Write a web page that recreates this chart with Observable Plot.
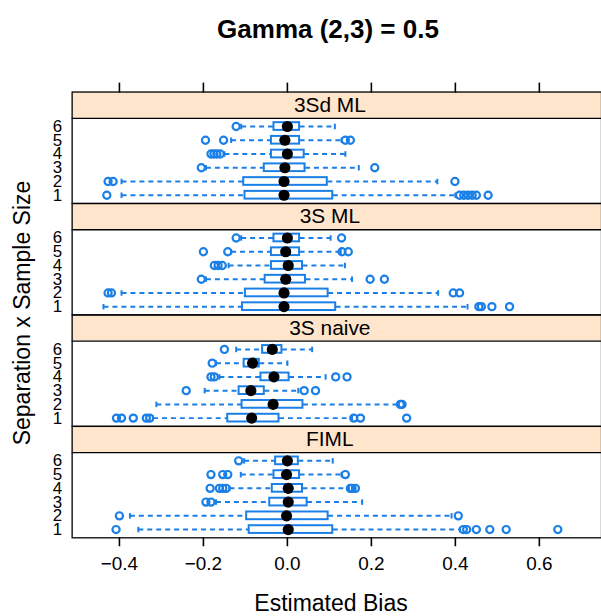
<!DOCTYPE html>
<html>
<head>
<meta charset="utf-8">
<script src="https://cdn.jsdelivr.net/npm/d3@7"></script>
<script src="https://cdn.jsdelivr.net/npm/@observablehq/plot@0.6"></script>
<style>
  html, body { margin: 0; padding: 0; background: #fff; overflow: hidden; }
  #wrap { position: relative; width: 601px; height: 616px; font-family: "Liberation Sans", Arial, sans-serif; }
  .lbl { position: absolute; white-space: nowrap; color: #000; }
  #title { left: 328px; top: 29px; transform: translate(-50%, -50%); font-weight: bold; font-size: 26px; }
  #xlab { left: 331px; top: 603px; transform: translate(-50%, -50%); font-size: 23px; }
  #ylab { left: 22px; top: 313px; transform: translate(-50%, -50%) rotate(-90deg); font-size: 23px; }
</style>
</head>
<body>
<div id="wrap">
  <div id="chart"></div>
  <div class="lbl" id="title">Gamma (2,3) = 0.5</div>
  <div class="lbl" id="xlab">Estimated Bias</div>
  <div class="lbl" id="ylab">Separation x Sample Size</div>
</div>
<script>
// Panels, top to bottom
const panels = ["3Sd ML", "3S ML", "3S naive", "FIML"];
const sizes = [1, 2, 3, 4, 5, 6];
const xTicks = [-0.4, -0.2, 0.0, 0.2, 0.4, 0.6];

// One entry per panel x size (sizes 1..6 within each panel)
const panelOf = [
  "FIML","FIML","FIML","FIML","FIML","FIML",
  "3S naive","3S naive","3S naive","3S naive","3S naive","3S naive",
  "3S ML","3S ML","3S ML","3S ML","3S ML","3S ML",
  "3Sd ML","3Sd ML","3Sd ML","3Sd ML","3Sd ML","3Sd ML"
];
const sizeOf = [1,2,3,4,5,6, 1,2,3,4,5,6, 1,2,3,4,5,6, 1,2,3,4,5,6];
const whiskerLow = [
  -0.355, -0.375, -0.170, -0.138, -0.111, -0.103,
  -0.320, -0.312, -0.197, -0.162, -0.170, -0.122,
  -0.438, -0.395, -0.194, -0.140, -0.134, -0.110,
  -0.395, -0.395, -0.194, -0.150, -0.134, -0.110
];
const q1 = [
  -0.091, -0.097, -0.042, -0.036, -0.032, -0.028,
  -0.142, -0.108, -0.115, -0.063, -0.103, -0.059,
  -0.107, -0.100, -0.053, -0.038, -0.038, -0.032,
  -0.101, -0.104, -0.055, -0.038, -0.038, -0.032
];
const median = [
  0.002, -0.002, 0.002, 0.002, -0.002, 0.000,
  -0.085, -0.034, -0.087, -0.032, -0.083, -0.036,
  -0.008, -0.008, -0.004, 0.002, -0.004, 0.000,
  -0.008, -0.008, -0.006, 0.000, -0.006, 0.000
];
const q3 = [
  0.108, 0.097, 0.047, 0.036, 0.029, 0.026,
  -0.020, 0.037, -0.055, 0.004, -0.067, -0.013,
  0.115, 0.097, 0.043, 0.036, 0.029, 0.029,
  0.108, 0.095, 0.042, 0.040, 0.029, 0.029
];
const whiskerHigh = [
  0.411, 0.391, 0.178, 0.145, 0.129, 0.108,
  0.154, 0.265, 0.026, 0.091, 0.000, 0.059,
  0.429, 0.359, 0.154, 0.137, 0.127, 0.103,
  0.400, 0.357, 0.170, 0.138, 0.129, 0.113
];
const outliers = [
  [-0.408, 0.419, 0.427, 0.45, 0.482, 0.521, 0.644],
  [-0.400, 0.407],
  [-0.194, -0.182],
  [-0.184, -0.162, -0.154, -0.146, 0.150, 0.154, 0.162],
  [-0.182, -0.154, -0.142, 0.138],
  [-0.116],
  [-0.407, -0.395, -0.367, -0.336, -0.328, 0.158, 0.174, 0.284],
  [0.269, 0.273],
  [-0.241, 0.040, 0.067],
  [-0.182, -0.174, 0.115, 0.142],
  [-0.179],
  [-0.150],
  [0.456, 0.462, 0.487, 0.529],
  [-0.427, -0.419, 0.395, 0.410],
  [-0.205, 0.197, 0.231],
  [-0.174, -0.165, -0.155],
  [-0.200, -0.142, 0.130, 0.145],
  [-0.122, 0.129],
  [-0.430, 0.410, 0.420, 0.430, 0.440, 0.450, 0.478],
  [-0.427, -0.415, 0.399],
  [-0.205, 0.208],
  [-0.182, -0.175, -0.168, -0.160],
  [-0.195, -0.152, 0.138, 0.150],
  [-0.122]
];

const stats = panelOf.map((p, i) => ({
  panel: p, size: sizeOf[i], lo: whiskerLow[i], q1: q1[i], med: median[i], q3: q3[i], hi: whiskerHigh[i]
}));
const outPts = outliers.flatMap((arr, i) => arr.map(v => ({panel: panelOf[i], size: sizeOf[i], v})));

const blue = "#1a7fe6";
const boxHalf = 0.28, capHalf = 0.2;
const stripLo = 6.6, stripHi = 8.51;

const chart = Plot.plot({
  width: 604,
  height: 616,
  marginLeft: 72,
  marginRight: 0,
  marginTop: 90,
  marginBottom: 75,
  style: {fontFamily: "'Liberation Sans', Arial, sans-serif", background: "white", overflow: "visible"},
  x: {domain: [-0.5126, 0.748]},
  y: {domain: [0.4, stripHi]},
  fy: {domain: panels, padding: 0, axis: null, label: null},
  marks: [
    Plot.rect(panels, {fy: d => d, y1: () => stripLo, y2: () => stripHi, fill: "#ffe5cc"}),
    Plot.ruleY(panels, {fy: d => d, y: () => stripLo, stroke: "black", strokeWidth: 1.3}),
    Plot.text(panels, {fy: d => d, y: () => (stripLo + stripHi) / 2, frameAnchor: "middle", dx: -7, text: d => d, fontSize: 21, fill: "black"}),
    // whiskers
    Plot.link(stats, {fy: "panel", x1: "lo", x2: "q1", y1: "size", y2: "size", stroke: blue, strokeWidth: 2, strokeDasharray: "5,4"}),
    Plot.link(stats, {fy: "panel", x1: "q3", x2: "hi", y1: "size", y2: "size", stroke: blue, strokeWidth: 2, strokeDasharray: "5,4"}),
    Plot.link(stats, {fy: "panel", x1: "lo", x2: "lo", y1: d => d.size - capHalf, y2: d => d.size + capHalf, stroke: blue, strokeWidth: 2}),
    Plot.link(stats, {fy: "panel", x1: "hi", x2: "hi", y1: d => d.size - capHalf, y2: d => d.size + capHalf, stroke: blue, strokeWidth: 2}),
    // boxes
    Plot.rect(stats, {fy: "panel", x1: "q1", x2: "q3", y1: d => d.size - boxHalf, y2: d => d.size + boxHalf, fill: "none", stroke: blue, strokeWidth: 2}),
    // outliers
    Plot.dot(outPts, {fy: "panel", x: "v", y: "size", r: 3.6, stroke: blue, strokeWidth: 2.2, fill: "none"}),
    // medians
    Plot.dot(stats, {fy: "panel", x: "med", y: "size", r: 5.6, fill: "black", stroke: "none"}),
    Plot.frame({stroke: "black", strokeWidth: 1.3}),
    Plot.axisY({ticks: sizes, tickSize: 0, tickPadding: 10, fontSize: 17, label: null, tickFormat: d => String(d)}),
    Plot.axisX({anchor: "bottom", ticks: xTicks, tickSize: 9, tickPadding: 10, fontSize: 19, strokeWidth: 1.6, label: null, tickFormat: d3.format(".1f")}),
    Plot.axisX({anchor: "top", ticks: xTicks, tickSize: 10, tickFormat: () => "", strokeWidth: 1.6, label: null})
  ]
});
document.getElementById("chart").appendChild(chart);
</script>
</body>
</html>
